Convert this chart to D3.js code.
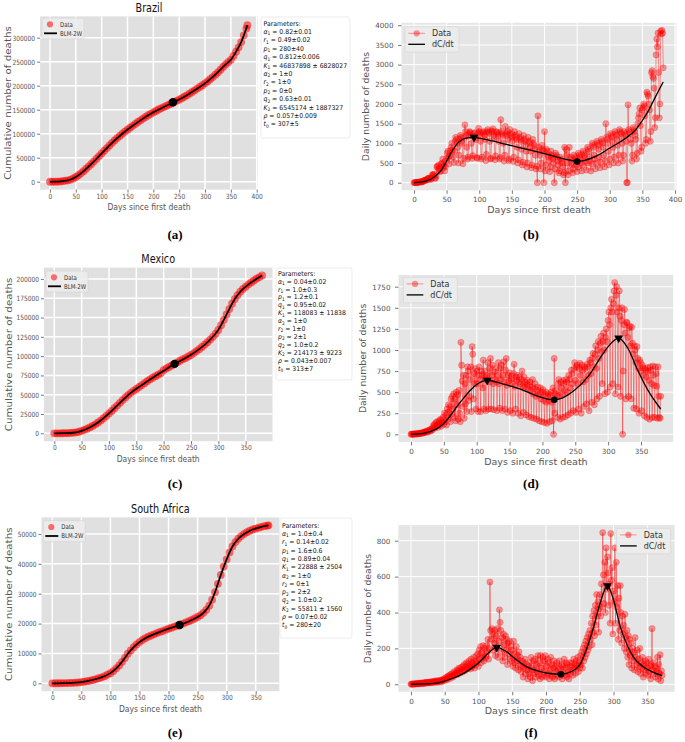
<!DOCTYPE html>
<html><head><meta charset="utf-8">
<script src="https://cdn.jsdelivr.net/npm/d3@7/dist/d3.min.js"></script>
<style>body{margin:0;background:#fff}</style>
</head><body>
<svg id="c" width="685" height="742"></svg>
<script>
// ---------------- DATA ----------------
const titles = ["Brazil", "Mexico", "South Africa"];
const captions = ["(a)", "(b)", "(c)", "(d)", "(e)", "(f)"];
const xLabel = "Days since first death";
const cumYLabel = "Cumulative number of deaths";
const dailyYLabel = "Daily number of deaths";
const legendCum = ["Data", "BLM-2W"];
const legendDaily = ["Data", "dC/dt"];

const xTicks400 = [0,50,100,150,200,250,300,350,400];
const xTicks350 = [0,50,100,150,200,250,300,350];
const brazilCumTicks = [0,50000,100000,150000,200000,250000,300000];
const brazilDailyTicks = [0,500,1000,1500,2000,2500,3000,3500,4000];
const mexicoCumTicks = [0,25000,50000,75000,100000,125000,150000,175000,200000];
const mexicoDailyTicks = [0,250,500,750,1000,1250,1500,1750];
const safricaCumTicks = [0,10000,20000,30000,40000,50000];
const safricaDailyTicks = [0,200,400,600,800];

const paramSymbols = ["α","r","p","q","K","α","r","p","q","K","ρ","t"];
const paramSubs    = ["1","1","1","1","1","2","2","2","2","2","","0"];
const brazilParams = ["0.82±0.01","0.49±0.02","280±40","0.812±0.006","46837898 ± 6828027","1±0","1±0","0±0","0.63±0.01","6545174 ± 1887327","0.057±0.009","307±5"];
const mexicoParams = ["0.04±0.02","1.0±0.3","1.2±0.1","0.95±0.02","118083 ± 11838","1±0","1±0","2±1","1.0±0.2","214173 ± 9223","0.043±0.007","313±7"];
const safricaParams = ["1.0±0.4","0.14±0.02","1.6±0.6","0.89±0.04","22888 ± 2504","1±0","0±1","2±2","1.0±0.2","55811 ± 1560","0.07±0.02","280±20"];

// Brazil cumulative (sampled days)
const brazilCumDays = [0,5,10,15,20,25,30,35,40,45,50,55,60,65,70,75,80,85,90,95,100,105,110,115,120,125,130,135,140,145,150,155,160,165,170,175,180,185,190,195,200,205,210,215,220,225,230,235,240,245,250,255,260,265,270,275,280,285,290,295,300,305,310,315,320,325,330,335,340,345,350,355,360,365,370,375,380,382];
const brazilCum = [0,20,100,300,700,1300,2100,3000,4500,6800,10000,13500,17500,22000,27000,32000,37000,42500,48000,53500,59000,64500,70000,75500,81000,86000,91000,95500,100000,104500,108500,112500,116500,120500,124500,128000,131500,135000,138500,141500,144500,147500,150500,153000,155500,158000,160500,163000,166000,168500,171000,174000,177000,180000,183500,187000,190500,194000,197500,201000,205000,209000,213500,218000,223000,228000,233500,239000,244500,249000,254000,262000,271000,280000,291000,305000,319000,326000];
const brazilBLMDays = [0,10,20,30,40,50,60,80,100,120,140,160,180,200,220,240,260,280,300,320,340,350,360,370,382];
const brazilBLM = [0,100,700,2100,4500,10000,17500,37000,59000,81000,100000,116500,131500,144500,155500,166000,177000,190500,205000,223000,244500,254000,271000,291000,326000];
const brazilCumPoint = [238, 165500];

// Brazil daily (one value per day, day 0..382)
const brazilDaily = [
1,0,2,3,5,7,9,
12,11,18,22,25,18,23,
40,42,60,66,60,73,70,
100,115,110,95,120,80,105,
200,205,180,215,120,110,170,
400,420,360,450,340,280,300,
480,500,600,430,420,300,400,
550,620,750,800,650,480,680,
820,900,1000,820,650,510,800,
1050,1150,1100,1000,900,500,700,
1100,1200,1150,1050,1000,480,620,
1150,1470,1300,1200,900,600,650,
1250,1300,1280,1200,1000,620,690,
1180,1250,1270,1150,1100,640,620,
1250,1380,1300,1220,1050,600,650,
1280,1250,1300,1200,1100,560,720,
1300,1350,1280,1250,1050,600,620,
1320,1300,1370,1200,1150,580,680,
1300,1280,1250,1200,1050,600,640,
1600,1300,1250,1200,1000,550,700,
1430,1250,1200,1300,1100,560,600,
1350,1250,1200,1150,1050,540,650,
1300,1200,1150,1100,900,500,580,
1250,1150,1100,1050,850,450,520,
1200,1100,1050,950,800,400,500,
1150,1050,1000,900,800,380,450,
1100,1000,950,850,700,350,420,
0,1700,900,800,700,350,500,
950,850,800,0,1300,300,450,
850,800,700,650,550,280,400,
800,700,650,600,500,0,350,
750,700,650,550,450,250,300,
650,600,550,500,400,200,250,
900,0,850,700,500,200,300,
900,650,600,500,450,250,350,
700,650,600,550,450,280,400,
750,700,650,600,500,300,450,
800,750,700,650,550,320,500,
900,850,800,650,550,300,480,
1000,950,900,700,600,350,500,
1050,1000,950,850,650,380,520,
1100,1050,1000,900,700,400,550,
1500,1150,1100,1000,800,450,600,
1250,1200,1150,1050,900,500,650,
1300,1250,1200,1100,950,500,700,
1350,1300,1250,1150,1000,550,700,
1300,1250,1200,1050,0,0,1980,
1350,1300,1250,1100,1000,550,700,
1400,1350,1300,1200,1100,600,750,
1500,1650,1750,1900,1450,800,900,
1850,1900,2000,1950,1700,1000,1100,
2300,2250,2200,2000,1850,1050,1300,
2800,2850,2700,2650,2400,1400,1650,
3250,3650,3450,3800,2800,1650,2000,
3850,3780,3870,3800,2920];
const brazilFitDays = [0,10,20,30,40,50,60,70,80,92,100,120,140,160,180,200,220,240,250,260,280,300,320,340,350,360,370,382];
const brazilFit = [0,15,50,130,280,550,850,1050,1130,1150,1130,1060,980,900,820,740,650,570,540,560,680,880,1080,1350,1580,1850,2180,2560];
const brazilPeakDays = [92], brazilPeakVals = [1150];
const brazilTroughDays = [250], brazilTroughVals = [540];

// Mexico cumulative
const mexicoCumDays = [0,5,10,15,20,25,30,35,40,45,50,55,60,65,70,75,80,85,90,95,100,105,110,115,120,125,130,135,140,145,150,155,160,165,170,175,180,185,190,195,200,205,210,215,220,225,230,235,240,245,250,255,260,265,270,275,280,285,290,295,300,305,310,315,320,325,330,335,340,345,350,355,360,365,370,375,380];
const mexicoCum = [0,5,20,50,120,250,450,800,1300,2000,3200,4500,6000,7600,9500,11700,14000,16500,19500,22500,25700,29000,32500,36000,39500,43000,46500,49500,52500,55000,57500,60000,62500,65000,67500,70000,72000,74000,76000,78000,82000,84000,86000,88000,90000,92000,94000,96000,97500,99500,101500,104000,106500,109000,112000,115000,118000,121500,125000,129000,134000,140000,147000,154000,161000,168000,174000,179000,183500,187000,190000,193000,195500,198000,200500,202500,204500];
const mexicoBLMDays = [0,20,40,50,60,80,100,120,140,160,180,200,220,240,260,280,300,310,320,330,340,360,380];
const mexicoBLM = [0,120,1300,3200,6000,14000,25700,39500,52500,62500,72000,81000,90000,97500,106500,118000,134000,147000,161000,174000,183500,195500,204500];
const mexicoCumPoint = [220, 90000];

// Mexico daily (day 0..380)
const mexicoDaily = [
1,1,2,1,3,2,5,
4,6,3,8,7,10,12,
9,14,18,12,20,16,25,
28,22,35,30,40,26,45,
50,38,60,45,70,55,105,
90,120,75,140,100,150,85,
130,160,110,180,95,170,140,
200,120,250,150,230,110,300,
260,350,190,330,150,420,240,
450,300,480,200,420,160,500,
350,470,180,520,250,150,1090,
820,630,330,700,190,600,360,
700,270,800,750,400,450,650,
800,270,1040,950,420,720,600,
780,300,750,600,270,700,800,
650,270,750,700,550,880,300,
750,680,280,700,640,850,300,
780,620,900,300,700,820,600,
290,740,650,780,620,280,700,
850,600,310,780,650,820,280,
700,860,620,300,760,900,580,
260,700,630,730,280,650,690,
610,250,720,830,570,300,680,
640,700,250,620,680,600,220,
650,750,570,260,680,560,620,
230,600,640,540,210,580,620,
520,200,560,650,480,190,540,
600,450,180,520,560,470,160,
480,550,420,150,500,530,400,
140,470,500,380,130,450,480,
400,150,470,500,380,160,550,
0,900,250,480,520,450,200,
600,650,460,180,620,550,480,
200,640,600,520,210,650,620,
500,230,700,650,550,250,760,
720,600,280,780,850,640,260,
800,820,600,300,780,840,700,
250,820,760,620,330,800,780,
650,360,830,800,700,280,880,
850,720,380,900,960,800,350,
950,1050,780,420,1000,1100,900,
450,1080,1160,980,600,1100,1200,
1000,480,1150,1250,1100,500,1350,
1450,1300,560,1500,1600,1450,600,
1550,1700,1800,480,1650,1750,1450,
560,1500,1700,1400,450,1350,1500,
0,750,1300,1480,1200,420,1330,
1320,1150,450,1260,1280,1050,420,
1270,1080,950,310,1050,1000,850,
300,1040,900,780,250,880,850,
750,280,820,790,700,220,780,
760,680,200,790,750,640,180,
800,760,600,200,810,700,580,
200,800,720,570,190,800,450,
200,190,450];
const mexicoFitDays = [0,10,20,30,40,50,60,70,80,90,100,116,130,150,170,190,210,218,230,250,270,290,300,316,330,345,360,380];
const mexicoFit = [0,5,15,35,70,130,220,330,430,520,590,640,620,575,525,460,415,410,430,530,690,930,1040,1140,1020,760,530,300];
const mexicoPeakDays = [116,316], mexicoPeakVals = [640,1140];
const mexicoTroughDays = [218], mexicoTroughVals = [410];

// South Africa cumulative
const safricaCumDays = [0,5,10,15,20,25,30,35,40,45,50,55,60,65,70,75,80,85,90,95,100,105,110,115,120,125,130,135,140,145,150,155,160,165,170,175,180,185,190,195,200,205,210,215,220,225,230,235,240,245,250,255,260,265,270,275,280,285,290,295,300,305,310,315,320,325,330,335,340,345,350,355,360,365,370,372];
const safricaCum = [1,10,20,40,60,90,110,150,200,300,400,550,700,900,1100,1400,1700,2000,2400,2900,3400,4100,5000,6000,7200,8500,9900,11000,12100,13000,13800,14500,15100,15600,16000,16400,16800,17200,17500,17900,18300,18600,19000,19300,19600,20000,20400,20800,21200,21700,22200,22800,23600,24600,26000,28000,30500,33300,36300,39100,41500,43800,45800,47300,48400,49300,50000,50600,51100,51500,51800,52100,52400,52600,52800,52900];
const safricaBLMDays = [0,20,40,60,80,100,110,120,130,140,150,160,180,200,220,240,260,270,280,290,300,310,320,330,340,360,372];
const safricaBLM = [0,60,200,700,1700,3400,5000,7200,9900,12100,13800,15100,16800,18300,19600,21200,23600,26000,30500,36300,41500,45800,48400,50000,51100,52400,52900];
const safricaCumPoint = [219, 19500];

// South Africa daily (day 0..372)
const safricaDaily = [
1,0,1,2,0,3,2,
2,4,3,5,2,6,3,
5,7,4,8,6,3,9,
8,10,6,12,7,9,11,
10,13,8,15,12,9,14,
17,12,15,20,11,18,14,
20,16,22,14,25,18,24,
30,22,35,28,40,26,45,
38,50,32,55,45,60,40,
48,70,52,65,58,80,55,
75,90,62,85,70,95,68,
100,80,110,75,95,120,85,
115,90,130,100,85,140,95,
120,105,150,90,130,110,160,
125,170,100,190,140,210,120,
175,150,215,130,200,145,160,
215,180,250,140,200,570,300,
250,310,190,280,230,300,160,
270,200,310,150,240,415,345,
300,180,260,130,280,220,150,
270,190,250,110,230,170,240,
140,210,130,190,100,240,120,
170,90,210,130,160,80,180,
110,150,70,130,100,40,120,
90,140,60,110,80,30,100,
60,120,40,150,90,20,80,
130,60,140,40,110,70,160,
50,120,30,160,90,40,150,
70,130,50,160,40,100,140,
60,120,30,80,150,50,110,
40,90,130,30,100,70,120,
50,80,40,130,90,55,110,
30,100,60,140,50,90,120,
40,110,70,30,120,60,100,
80,120,50,140,90,110,60,
130,100,150,70,120,90,160,
110,180,90,200,130,220,150,
240,170,260,190,280,210,300,
250,340,220,380,290,410,270,
440,330,500,380,460,290,420,
500,380,560,430,845,610,450,
680,400,760,530,710,620,440,
560,340,840,580,650,280,520,
460,760,340,680,430,550,250,
480,300,550,400,230,380,280,
330,200,390,260,180,300,150,
270,110,250,160,230,90,200,
130,180,80,260,150,110,190,
70,140,100,200,60,120,90,
150,40,110,80,130,60,120,
90,50,140,70,100,30,110,
310,80,120,60,100,40,90,
70,150,30,110,60,165,20,
75,50];
const safricaFitDays = [0,20,40,58,78,90,102,115,127,140,155,171,190,205,222,240,250,260,270,280,291,300,310,320,329,345,360,372];
const safricaFit = [0,2,8,28,61,90,126,175,206,185,140,98,72,60,56,75,108,195,312,450,548,470,321,220,154,95,65,48];
const safricaPeakDays = [127,291], safricaPeakVals = [206,548];
const safricaTroughDays = [222], safricaTroughVals = [56];

// ---------------- DRAWING ----------------
const svg = d3.select('#c');
const FONT = "'DejaVu Sans', sans-serif";
const SX = 0.82; // horizontal text compression of the left-column figures

function txt(x, y, str, size, o = {}) {
  const sx = o.sx || 1;
  let tr = `translate(${x},${y}) scale(${sx},1)`;
  if (o.rot) tr += ' rotate(-90)';
  return svg.append('text').attr('transform', tr)
    .attr('text-anchor', o.anchor || 'middle')
    .style('font-family', o.family || FONT)
    .style('font-size', size + 'px')
    .style('font-weight', o.weight || 'normal')
    .attr('fill', o.fill || '#555').text(str);
}

function panel(p) {
  const g = svg.append('g');
  const x = d3.scaleLinear().domain(p.xd).range([p.l, p.r]);
  const y = d3.scaleLinear().domain(p.yd).range([p.b, p.t]);
  g.append('rect').attr('x', p.l).attr('y', p.t).attr('width', p.r - p.l).attr('height', p.b - p.t).attr('fill', p.bg);
  g.append('g').selectAll('line').data(p.xt).join('line')
    .attr('x1', d => x(d)).attr('x2', d => x(d)).attr('y1', p.t).attr('y2', p.b)
    .attr('stroke', '#fff').attr('stroke-width', p.gw);
  g.append('g').selectAll('line').data(p.yt).join('line')
    .attr('y1', d => y(d)).attr('y2', d => y(d)).attr('x1', p.l).attr('x2', p.r)
    .attr('stroke', '#fff').attr('stroke-width', p.gw);
  const xa = g.append('g').attr('transform', `translate(0,${p.b})`)
    .call(d3.axisBottom(x).tickValues(p.xt).tickSize(p.ts).tickPadding(p.xpad).tickFormat(d3.format('d')));
  const ya = g.append('g').attr('transform', `translate(${p.l},0)`)
    .call(d3.axisLeft(y).tickValues(p.yt).tickSize(p.ts).tickPadding(p.ypad).tickFormat(d3.format('d')));
  [xa, ya].forEach(a => {
    a.select('.domain').remove();
    a.selectAll('line').attr('stroke', '#555').attr('stroke-width', 0.8);
    a.selectAll('text').attr('fill', '#555').style('font-family', FONT).style('font-size', p.tf + 'px');
  });
  xa.selectAll('text').attr('transform', `scale(${p.sx},1)`).attr('x', 0);
  ya.selectAll('text').attr('x', -(p.ts + p.ypad) / p.sx).attr('transform', `scale(${p.sx},1)`);
  return { g, x, y };
}

function drawCum(P, days, vals, fitDays, fitVals, pt) {
  P.g.append('g').selectAll('circle').data(vals).join('circle')
    .attr('cx', (d, i) => P.x(days[i])).attr('cy', d => P.y(d)).attr('r', 3.9)
    .attr('fill', '#ff0000').attr('fill-opacity', 0.55);
  const line = d3.line().x((d, i) => P.x(fitDays[i])).y(d => P.y(d)).curve(d3.curveMonotoneX);
  P.g.append('path').datum(fitVals).attr('d', line).attr('fill', 'none').attr('stroke', '#000').attr('stroke-width', 1.7);
  P.g.append('circle').attr('cx', P.x(pt[0])).attr('cy', P.y(pt[1])).attr('r', 4.2).attr('fill', '#000');
}

function drawDaily(P, vals, fitDays, fitVals, pkD, pkV, trD, trV) {
  const line = d3.line().x((d, i) => P.x(i)).y(d => P.y(d));
  P.g.append('path').datum(vals).attr('d', line).attr('fill', 'none')
    .attr('stroke', '#ff0000').attr('stroke-opacity', 0.4).attr('stroke-width', 1);
  P.g.append('g').selectAll('circle').data(vals).join('circle')
    .attr('cx', (d, i) => P.x(i)).attr('cy', d => P.y(d)).attr('r', 3.1)
    .attr('fill', '#ff0000').attr('fill-opacity', 0.38)
    .attr('stroke', '#ff0000').attr('stroke-opacity', 0.38).attr('stroke-width', 0.6);
  const fl = d3.line().x((d, i) => P.x(fitDays[i])).y(d => P.y(d)).curve(d3.curveMonotoneX);
  P.g.append('path').datum(fitVals).attr('d', fl).attr('fill', 'none').attr('stroke', '#000').attr('stroke-width', 1.3);
  const tri = d3.symbol().type(d3.symbolTriangle).size(34);
  pkD.forEach((d, i) => P.g.append('path').attr('d', tri)
    .attr('transform', `translate(${P.x(d)},${P.y(pkV[i])}) rotate(180)`).attr('fill', '#000'));
  trD.forEach((d, i) => P.g.append('circle').attr('cx', P.x(d)).attr('cy', P.y(trV[i])).attr('r', 3.3).attr('fill', '#000'));
}

function cumLegend(bx, by) {
  svg.append('rect').attr('x', bx).attr('y', by).attr('width', 42).attr('height', 21).attr('rx', 2)
    .attr('fill', '#ececec').attr('fill-opacity', 0.9).attr('stroke', '#d4d4d4').attr('stroke-width', 0.6);
  svg.append('circle').attr('cx', bx + 8).attr('cy', by + 6.3).attr('r', 3.1).attr('fill', '#ff0000').attr('fill-opacity', 0.55);
  svg.append('line').attr('x1', bx + 2).attr('x2', bx + 15).attr('y1', by + 15.3).attr('y2', by + 15.3).attr('stroke', '#000').attr('stroke-width', 1.8);
  txt(bx + 18, by + 8.6, legendCum[0], 6.6, { sx: SX, anchor: 'start', fill: '#333' });
  txt(bx + 18, by + 17.6, legendCum[1], 6.6, { sx: SX, anchor: 'start', fill: '#333' });
}

function dailyLegend(bx, by) {
  svg.append('rect').attr('x', bx).attr('y', by).attr('width', 54).attr('height', 25.5).attr('rx', 2)
    .attr('fill', '#ececec').attr('fill-opacity', 0.9).attr('stroke', '#d4d4d4').attr('stroke-width', 0.6);
  svg.append('line').attr('x1', bx + 3.3).attr('x2', bx + 20).attr('y1', by + 6.6).attr('y2', by + 6.6)
    .attr('stroke', '#ff0000').attr('stroke-opacity', 0.4).attr('stroke-width', 1);
  svg.append('circle').attr('cx', bx + 11.7).attr('cy', by + 6.6).attr('r', 3.1).attr('fill', '#ff0000').attr('fill-opacity', 0.4);
  svg.append('line').attr('x1', bx + 3.3).attr('x2', bx + 20).attr('y1', by + 17.6).attr('y2', by + 17.6)
    .attr('stroke', '#000').attr('stroke-width', 1.3);
  txt(bx + 27, by + 9.5, legendDaily[0], 8, { anchor: 'start', fill: '#333' });
  txt(bx + 27, by + 20.5, legendDaily[1], 8, { anchor: 'start', fill: '#333' });
}

function paramBox(box, x0, y0, step, vals) {
  svg.append('rect').attr('x', box[0]).attr('y', box[1]).attr('width', box[2]).attr('height', box[3]).attr('rx', 2)
    .attr('fill', '#fff').attr('stroke', '#e4e4e4').attr('stroke-width', 0.7);
  const fs = 6.7, psx = 0.92;
  txt(x0, y0, 'Parameters:', fs, { sx: psx, anchor: 'start', fill: '#111' });
  vals.forEach((v, i) => {
    const t = txt(x0, y0 + (i + 1) * step, '', fs, { sx: psx, anchor: 'start', fill: '#111' });
    t.append('tspan').style('font-style', 'italic').text(paramSymbols[i]);
    if (paramSubs[i]) t.append('tspan').style('font-size', (fs * 0.7) + 'px').attr('dy', 1.4).text(paramSubs[i]);
    t.append('tspan').attr('dy', paramSubs[i] ? -1.4 : 0).text(' = ' + v);
  });
}

const cumStyle = { bg: '#e0e0e0', gw: 1.5, ts: 3, xpad: 1, ypad: 2, tf: 7.2, sx: SX };
const dayStyle = { bg: '#e5e5e5', gw: 1, ts: 3.5, xpad: 3.5, ypad: 4.5, tf: 7.2, sx: 1 };

// ---- Row 1: Brazil
const A = panel(Object.assign({ l: 40.1, r: 257.8, t: 16.4, b: 189.6, xd: [-19.15, 402.15], yd: [-16400, 344400], xt: xTicks400, yt: brazilCumTicks }, cumStyle));
drawCum(A, brazilCumDays, brazilCum, brazilBLMDays, brazilBLM, brazilCumPoint);
cumLegend(42, 18);
const B = panel(Object.assign({ l: 401.5, r: 676.4, t: 22.8, b: 190.3, xd: [-19.15, 402.15], yd: [-193.5, 4063], xt: xTicks400, yt: brazilDailyTicks }, dayStyle));
drawDaily(B, brazilDaily, brazilFitDays, brazilFit, brazilPeakDays, brazilPeakVals, brazilTroughDays, brazilTroughVals);
dailyLegend(405, 26.7);
paramBox([261, 17, 89, 121], 263.5, 25.7, 8.38, brazilParams);
txt(149, 11.7, titles[0], 11.8, { sx: SX, fill: '#111' });
txt(149, 209.5, xLabel, 9.3, { sx: SX });
txt(10.5, 103, cumYLabel, 10.3, { sx: SX, rot: true });
txt(539, 212.7, xLabel, 9.5);
txt(369.4, 106.5, dailyYLabel, 9.3, { rot: true });

// ---- Row 2: Mexico
const C = panel(Object.assign({ l: 43.9, r: 272.5, t: 267.6, b: 441.2, xd: [-19, 399], yd: [-10225, 214725], xt: xTicks350, yt: mexicoCumTicks }, cumStyle));
drawCum(C, mexicoCumDays, mexicoCum, mexicoBLMDays, mexicoBLM, mexicoCumPoint);
cumLegend(46, 271);
const D = panel(Object.assign({ l: 398.5, r: 673.2, t: 274.9, b: 441.9, xd: [-19, 399], yd: [-90, 1890], xt: xTicks350, yt: mexicoDailyTicks }, dayStyle));
drawDaily(D, mexicoDaily, mexicoFitDays, mexicoFit, mexicoPeakDays, mexicoPeakVals, mexicoTroughDays, mexicoTroughVals);
dailyLegend(403.3, 277.3);
paramBox([276, 268, 76, 112], 278, 275.7, 7.9, mexicoParams);
txt(158.2, 263.3, titles[1], 11.8, { sx: SX, fill: '#111' });
txt(158.2, 462, xLabel, 9.3, { sx: SX });
txt(11.5, 354.4, cumYLabel, 10.3, { sx: SX, rot: true });
txt(535.9, 465, xLabel, 9.5);
txt(366, 358.4, dailyYLabel, 9.3, { rot: true });

// ---- Row 3: South Africa
const E = panel(Object.assign({ l: 41.5, r: 279.3, t: 517.4, b: 691.2, xd: [-18.6, 390.6], yd: [-2645, 55545], xt: xTicks350, yt: safricaCumTicks }, cumStyle));
drawCum(E, safricaCumDays, safricaCum, safricaBLMDays, safricaBLM, safricaCumPoint);
cumLegend(43.3, 520.7);
const F = panel(Object.assign({ l: 398.4, r: 674.7, t: 525.1, b: 691.8, xd: [-18.6, 390.6], yd: [-42, 887], xt: xTicks350, yt: safricaDailyTicks }, dayStyle));
drawDaily(F, safricaDaily, safricaFitDays, safricaFit, safricaPeakDays, safricaPeakVals, safricaTroughDays, safricaTroughVals);
dailyLegend(616.7, 528.3);
paramBox([280, 518, 72, 120], 282, 527.7, 8.3, safricaParams);
txt(160.4, 513.3, titles[2], 11.8, { sx: SX, fill: '#111' });
txt(160.4, 712, xLabel, 9.3, { sx: SX });
txt(12.3, 604.3, cumYLabel, 10.3, { sx: SX, rot: true });
txt(536.5, 714.4, xLabel, 9.5);
txt(371, 608.5, dailyYLabel, 9.3, { rot: true });

// ---- captions
const capPos = [[175, 238.5], [531, 238.5], [175, 487.5], [531, 487.5], [175, 736.5], [531, 736.5]];
captions.forEach((c, i) => txt(capPos[i][0], capPos[i][1], c, 13, { family: "'Liberation Serif', 'Times New Roman', serif", weight: 'bold', fill: '#000' }));
</script>
</body></html>
